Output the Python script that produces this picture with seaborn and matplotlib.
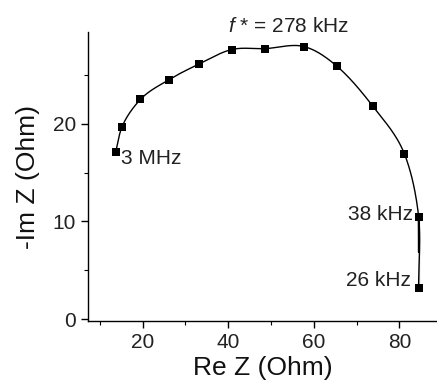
import numpy as np
import pandas as pd
import matplotlib
matplotlib.use("Agg")
import matplotlib.pyplot as plt
from matplotlib.ticker import MultipleLocator
import seaborn as sns

# Data (Nyquist plot)
re_z = [13.7, 15.2, 19.5, 26.1, 33.1, 40.8, 48.6, 57.8, 65.4, 73.8, 81.2, 84.5, 84.5]
im_z = [17.1, 19.7, 22.5, 24.5, 26.1, 27.6, 27.7, 27.9, 25.9, 21.8, 16.9, 10.5, 3.2]
x_ticks = [20, 40, 60, 80]
y_ticks = [0, 10, 20]
freq_labels = ["3 MHz", "38 kHz", "26 kHz"]
peak_label = "$\\it{f}$ * = 278 kHz"

sns.set_theme(style="ticks")
plt.rcParams["font.family"] = ["Liberation Sans", "DejaVu Sans"]
plt.rcParams["mathtext.fontset"] = "custom"
plt.rcParams["mathtext.it"] = "Liberation Sans:italic"


def catmull_rom(xs, ys, n=30, alpha=0.5):
    P = np.column_stack([xs, ys]).astype(float)
    P = np.vstack([2 * P[0] - P[1], P, 2 * P[-1] - P[-2]])
    out = []
    for i in range(1, len(P) - 2):
        p0, p1, p2, p3 = P[i - 1], P[i], P[i + 1], P[i + 2]
        t0 = 0.0
        t1 = t0 + np.linalg.norm(p1 - p0) ** alpha
        t2 = t1 + np.linalg.norm(p2 - p1) ** alpha
        t3 = t2 + np.linalg.norm(p3 - p2) ** alpha
        t = np.linspace(t1, t2, n)[:, None]
        A1 = (t1 - t) / (t1 - t0) * p0 + (t - t0) / (t1 - t0) * p1
        A2 = (t2 - t) / (t2 - t1) * p1 + (t - t1) / (t2 - t1) * p2
        A3 = (t3 - t) / (t3 - t2) * p2 + (t - t2) / (t3 - t2) * p3
        B1 = (t2 - t) / (t2 - t0) * A1 + (t - t0) / (t2 - t0) * A2
        B2 = (t3 - t) / (t3 - t1) * A2 + (t - t1) / (t3 - t1) * A3
        C = (t2 - t) / (t2 - t1) * B1 + (t - t1) / (t2 - t1) * B2
        out.append(C if i == len(P) - 3 else C[:-1])
    return np.vstack(out)


curve = catmull_rom(re_z, im_z)
df_pts = pd.DataFrame({"re": re_z, "im": im_z})
df_curve = pd.DataFrame({"re": curve[:, 0], "im": curve[:, 1]})

fig = plt.figure(figsize=(4.37, 3.81), dpi=100)
ax = fig.add_axes([0.201, 0.157, 0.799, 0.759])

sns.lineplot(data=df_curve, x="re", y="im", sort=False, color="black",
             linewidth=1.0, ax=ax)
sns.scatterplot(data=df_pts, x="re", y="im", marker="s", color="black",
                s=36, edgecolor="black", linewidth=0, ax=ax, zorder=3)

ax.set_xlim(7.2, 88.8)
ax.set_ylim(-0.22, 29.4)
ax.set_xticks(x_ticks)
ax.set_yticks(y_ticks)
ax.xaxis.set_minor_locator(MultipleLocator(10))
ax.yaxis.set_minor_locator(MultipleLocator(5))
ax.tick_params(axis="both", which="major", direction="out", length=5,
               width=1, labelsize=15, color="black", labelcolor="#222222")
ax.tick_params(axis="both", which="minor", direction="out", length=3,
               width=0.8, color="black")
for s in ["top", "right"]:
    ax.spines[s].set_visible(False)
for s in ["left", "bottom"]:
    ax.spines[s].set_color("black")
    ax.spines[s].set_linewidth(1.0)

ax.set_xlabel("Re Z (Ohm)", fontsize=19, color="#111111", labelpad=3)
ax.set_ylabel("-Im Z (Ohm)", fontsize=19, color="#111111", labelpad=9)

ax.text(re_z[0] + 1.3, im_z[0] - 0.7, freq_labels[0], fontsize=15,
        ha="left", va="center", color="#222222")
ax.text(re_z[11] - 1.3, im_z[11] + 0.2, freq_labels[1], fontsize=15,
        ha="right", va="center", color="#222222")
ax.text(re_z[12] - 1.8, im_z[12] + 0.7, freq_labels[2], fontsize=15,
        ha="right", va="center", color="#222222")
ax.text(54.0, 30.0, peak_label, fontsize=15, ha="center", va="center",
        color="#222222", clip_on=False)

fig.savefig("out.png", dpi=100)
